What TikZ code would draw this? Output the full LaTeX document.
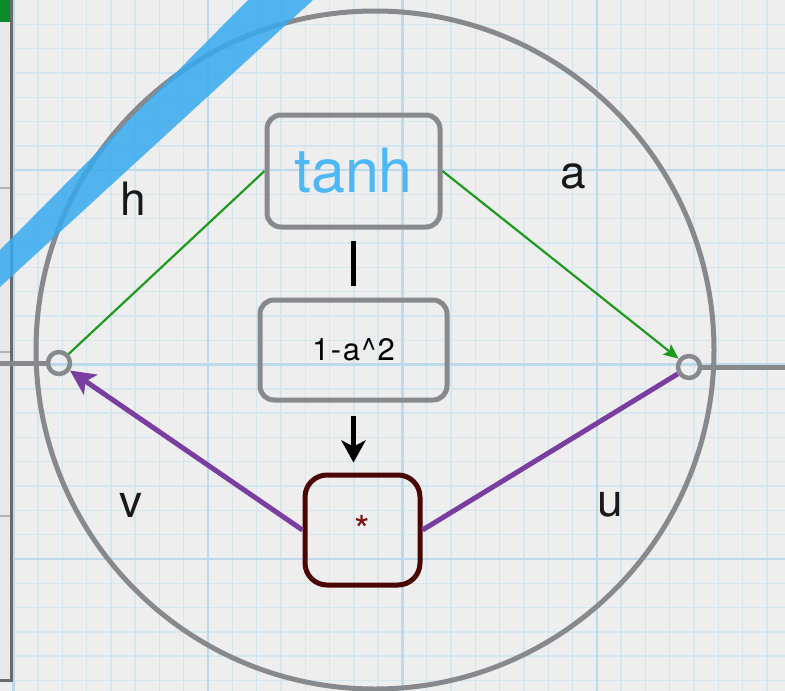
\documentclass[tikz,border=0pt]{standalone}
\usepackage{fontspec}
\setmainfont{TeX Gyre Heros}
\usetikzlibrary{arrows.meta}
\definecolor{bgcol}{HTML}{EEEEEE}
\definecolor{gridminor}{HTML}{D5E6EF}
\definecolor{gridmajor}{HTML}{BCDAEC}
\definecolor{ringgray}{HTML}{88898C}
\definecolor{tanhblue}{HTML}{4DB8F5}
\definecolor{bandblue}{RGB}{54,170,238}
\definecolor{maroonline}{HTML}{4A0505}
\definecolor{maroontext}{HTML}{7A1212}
\definecolor{greenline}{HTML}{1F9A1F}
\definecolor{purpleline}{HTML}{7A3EA1}
\definecolor{panelgray}{HTML}{E8E8E8}
\definecolor{paneldark}{HTML}{6A6A6A}
\definecolor{panelgreen}{HTML}{0B8A2C}
\tikzset{
  minorgrid/.style={gridminor, line width=1.4},
  majorgrid/.style={gridmajor, line width=2.4},
  ringline/.style={ringgray, line width=5},
  graybox/.style={draw=ringgray, line width=5, rounded corners=14, inner sep=0},
  prodbox/.style={draw=maroonline, line width=5, rounded corners=22, inner sep=0},
  port/.style={circle, draw=ringgray, line width=4.5, minimum size=22, inner sep=0},
  lbl/.style={font=\fontsize{46}{46}\selectfont, text=black!90, inner sep=0},
  greenconn/.style={greenline, line width=2.2},
  purpleconn/.style={purpleline, line width=5},
}
\begin{document}
\begin{tikzpicture}[x=1pt,y=-1pt]
\useasboundingbox (0,0) rectangle (785,691);
\fill[bgcol] (0,0) rectangle (785,691);
% grid
\foreach \k in {0,...,32} { \draw[minorgrid] ({13.6+24.3*\k},0) -- ++(0,691); }
\foreach \k in {1,...,28} { \draw[minorgrid] (0,{24.3*\k}) -- ++(785,0); }
\foreach \x in {13.6,208,402.4,596.8} { \draw[majorgrid] (\x,0) -- ++(0,691); }
\foreach \y in {170.1,364.5,558.9} { \draw[majorgrid] (0,\y) -- ++(785,0); }
% left panel
\fill[panelgray] (0,0) rectangle (11,680);
\fill[panelgreen] (0,0) rectangle (10,22);
\foreach \y in {188,352,516} { \draw[gray!60, line width=1.5] (0,\y) -- (10,\y); }
\draw[paneldark, line width=3] (11,0) -- (11,680) -- (0,680);
% big circle
\draw[ringline] (375,350) circle[radius=339];
% nodes
\node[graybox, minimum width=173, minimum height=112] (T) at (353.5,171)
  {\fontsize{61}{61}\selectfont\color{tanhblue}tanh};
\node[graybox, minimum width=187, minimum height=100] (M) at (353.5,350)
  {\fontsize{31}{31}\selectfont\addfontfeatures{LetterSpace=5}1-a\textasciicircum2};
\node[prodbox, minimum width=115, minimum height=110] (S) at (362.5,530)
  {\fontsize{40}{40}\selectfont\color{maroontext}*};
\node[port] (L) at (59,363) {};
\node[port] (R) at (689,367) {};
\coordinate (Lout) at (0,363);
\coordinate (Rout) at (785,367);
\coordinate (Stop) at (M.south |- S.north);
% labels
\node[lbl] (lh) at (133,199) {h};
\node[lbl] (la) at (573,176) {a};
\node[lbl] (lv) at (131,505) {v};
\node[lbl] (lu) at (610,505) {u};
% connectors
\draw[ringline] (Lout) -- (L);
\draw[ringline] (R) -- (Rout);
\draw[black, line width=5, shorten <=11, shorten >=12] (T.south) -- (M.north);
\draw[black, line width=5, shorten <=13, shorten >=10,
  -{Stealth[length=22pt, width=24pt, inset=6pt]}] (M.south) -- (Stop);
\draw[greenconn] (T.west) -- (L);
\draw[greenconn, -{Stealth[length=15pt, width=13pt, inset=3pt]}] (T.east) -- (R);
\draw[purpleconn, -{Stealth[length=25pt, width=24pt, inset=6pt]}] (S.west) -- (L);
\draw[purpleconn] (S.east) -- (R);
% blue band
\fill[bandblue, opacity=0.85] (0,250) -- (248,0) -- (313,0) -- (0,287) -- cycle;
\end{tikzpicture}
\end{document}
